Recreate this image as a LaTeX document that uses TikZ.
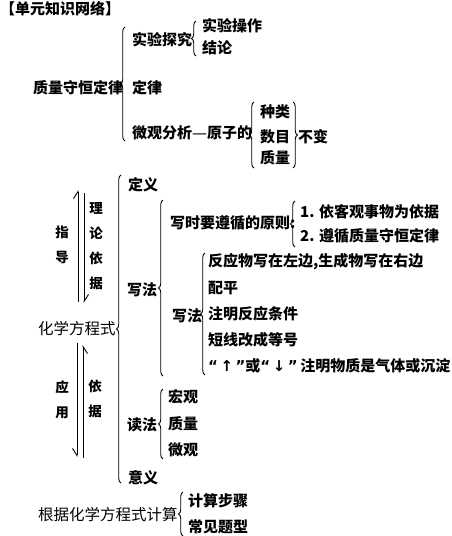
\documentclass[tikz,border=0pt]{standalone}
\usepackage{fontspec}
\setmainfont{Noto Sans CJK SC}
\newfontfamily\symfont{DejaVu Sans}
\usetikzlibrary{decorations.pathreplacing,arrows.meta}
\begin{document}
\begin{tikzpicture}[x=1pt,y=-1pt,
  t/.style={anchor=west,inner sep=0pt,font=\fontsize{15}{18}\selectfont\bfseries},
  tr/.style={anchor=west,inner sep=0pt,font=\fontsize{15.5}{18}\selectfont},
  lb/.style={decorate,decoration={brace,amplitude=4.5pt},line width=0.9pt},
  vt/.style={inner sep=0pt,align=center,font=\fontsize{13.5}{25}\selectfont\bfseries},
  ar/.style={line width=0.9pt}]
\useasboundingbox (0,0) rectangle (451,536);

% ---- top section
\node[t] (title) at (0,9) {【单元知识网络】};
\node[t] (zl) at (33,88) {质量守恒定律};
\draw[lb] (125,141) -- (125,27);
\node[t] (sy) at (132,40) {实验探究};
\draw[lb] (196,56) -- (196,21);
\node[t] (sycz) at (202,26) {实验操作};
\node[t] (jl) at (202,48) {结论};
\node[t] (dl) at (132,88) {定律};
\node[t] (wg) at (132,133) {微观分析{\symfont\mdseries —}原子的};
\draw[lb] (254,168) -- (254,102);
\node[t] (zlA) at (260,112) {种类};
\node[t] (sm) at (260,137) {数目};
\node[t] (zlB) at (260,158) {质量};
\draw[lb] (293,102) -- (293,168);
\node[t] (bb) at (298,137) {不变};

% ---- second section
\node[tr] (hx) at (38,329) {化学方程式};
\draw[lb] (121,483) -- (121,175);
\node[t] (dy) at (128,185) {定义};
\node[t] (xf) at (127,290) {写法};
\draw[lb] (163,376) -- (163,200);
\node[t] (yz) at (170,223) {写时要遵循的原则:};
\draw[lb] (295,247) -- (295,201);
\node[t] (p1) at (300,212) {1. 依客观事物为依据};
\node[t] (p2) at (300,236) {2. 遵循质量守恒定律};
\node[t] (xf2) at (172,316) {写法};
\draw[lb] (205,375) -- (205,253);
\node[t] (r1) at (208,262) {反应物写在左边,生成物写在右边};
\node[t] (r2) at (208,288) {配平};
\node[t] (r3) at (208,314) {注明反应条件};
\node[t] (r4) at (208,340) {短线改成等号};
\node[t] (r5) at (208,366) {{\symfont “\,↑\,”}或{\symfont “\,↓\,”}\,注明物质是气体或沉淀};
\node[t] (df) at (127,425) {读法};
\draw[lb] (163,459) -- (163,389);
\node[t] (hg) at (168,397) {宏观};
\node[t] (zlC) at (168,424) {质量};
\node[t] (wgA) at (168,450) {微观};
\node[t] (yy0) at (128,478) {意义};
\node[tr] (gj) at (38,515) {根据化学方程式计算};
\draw[lb] (183,536) -- (183,492);
\node[t] (bz) at (188,501) {计算步骤};
\node[t] (tx) at (188,527) {常见题型};

% ---- vertical labels and double arrows
\node[vt] (zd) at (62,245) {指\\导};
\node[vt] (llyj) at (96,246) {理\\论\\依\\据};
\node[vt] (yy) at (62,400) {应\\用};
\node[vt] (yj) at (95,399) {依\\据};

\coordinate (a1s) at (78,302); \coordinate (a1e) at (78,190);
\coordinate (a2s) at (84,193); \coordinate (a2e) at (84,303);
\coordinate (a3s) at (77,343); \coordinate (a3e) at (77,457);
\coordinate (a4s) at (83,458); \coordinate (a4e) at (83,345);
\draw[ar,-{Straight Barb[left,length=7pt,width=9pt]}] (a1s) -- (a1e);
\draw[ar,-{Straight Barb[left,length=7pt,width=9pt]}] (a2s) -- (a2e);
\draw[ar,-{Straight Barb[right,length=7pt,width=9pt]}] (a3s) -- (a3e);
\draw[ar,-{Straight Barb[right,length=7pt,width=9pt]}] (a4s) -- (a4e);
\end{tikzpicture}
\end{document}
